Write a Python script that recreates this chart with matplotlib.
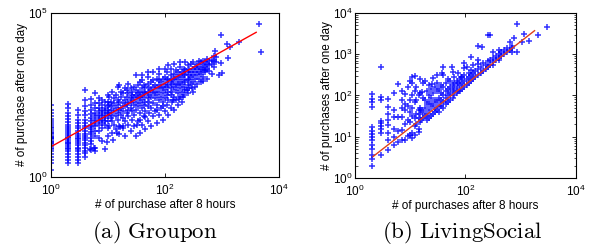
import matplotlib
matplotlib.use("Agg")
import matplotlib.pyplot as plt
from matplotlib.ticker import LogLocator, NullLocator, NullFormatter

plt.rcParams['font.family'] = ['Liberation Sans', 'DejaVu Sans']
plt.rcParams['mathtext.default'] = 'regular'

# all values are log10 of counts

# Groupon: purchases at 8h take integer values, so small counts form columns
gp_col_x = [1, 2, 3, 4, 5, 6]
gp_col_ly = [
    [0.21, 0.42, 0.52, 0.6, 0.7, 0.78, 0.85, 0.9, 0.95, 1.0, 1.04, 1.08, 1.11, 1.15, 1.18, 1.2,
     1.23, 1.26, 1.3, 1.34, 1.38, 1.43, 1.48, 1.53, 1.58, 1.64, 1.7, 1.78, 1.86, 1.95, 2.04, 2.19],
    [0.42, 0.52, 0.6, 0.7, 0.78, 0.85, 0.9, 0.95, 1.0, 1.04, 1.08, 1.13, 1.18, 1.23, 1.28, 1.34,
     1.4, 1.46, 1.53, 1.6, 1.68, 1.76, 1.85, 1.95, 2.1, 2.24],
    [0.42, 0.52, 0.62, 0.7, 0.78, 0.85, 0.9, 0.98, 1.04, 1.1, 1.15, 1.2, 1.26, 1.32, 1.4, 1.48,
     1.56, 1.65, 1.75, 1.9, 2.04],
    [0.62, 0.72, 0.8, 0.9, 0.98, 1.05, 1.12, 1.18, 1.25, 1.32, 1.4, 1.48, 1.56, 1.65, 1.75, 1.88,
     2.0, 2.15, 2.35, 2.65],
    [0.82, 1.0, 1.1, 1.2, 1.3, 1.38, 1.45, 1.52, 1.6, 1.7, 1.8, 1.92, 2.05, 2.2, 2.37],
    [0.8, 0.87, 1.25, 1.4, 1.55, 1.65, 1.75, 1.85, 1.95, 2.1, 2.25, 2.55],
]

gp_cloud = [
    (0.85, 1.2), (0.85, 1.4), (0.85, 1.6), (0.85, 1.7), (0.85, 1.8), (0.85, 1.9), (0.85, 2.0),
    (0.85, 2.1), (0.85, 2.25), (0.85, 2.4),
    (0.9, 1.1), (0.9, 1.5), (0.9, 1.65), (0.9, 1.75), (0.9, 1.85), (0.9, 1.95), (0.9, 2.05),
    (0.9, 2.2), (0.9, 2.35),
    (0.95, 0.85), (0.95, 1.6), (0.95, 1.7), (0.95, 1.8), (0.95, 1.9), (0.95, 2.0), (0.95, 2.1),
    (0.95, 2.3),
    (1.0, 1.25), (1.0, 1.5), (1.0, 1.7), (1.0, 1.85), (1.0, 1.95), (1.0, 2.05), (1.0, 2.15),
    (1.0, 2.3), (1.0, 2.5),
    (1.02, 1.55), (1.02, 1.95), (1.02, 2.2), (1.02, 2.45),
    (1.05, 1.8), (1.05, 2.05), (1.05, 2.3),
    (1.08, 1.35), (1.08, 1.7), (1.08, 1.9), (1.08, 2.15), (1.08, 2.6),
    (1.11, 1.6), (1.11, 2.0), (1.11, 2.25), (1.11, 2.4),
    (1.14, 1.45), (1.14, 1.85), (1.14, 2.1), (1.14, 2.5),
    (1.18, 1.75), (1.18, 1.95), (1.18, 2.2), (1.18, 2.35), (1.18, 2.75),
    (1.2, 1.3), (1.2, 1.55), (1.2, 2.05), (1.2, 2.3), (1.2, 2.8),
    (1.23, 1.9), (1.23, 2.1), (1.23, 2.45), (1.23, 2.6),
    (1.26, 1.5), (1.26, 1.8), (1.26, 2.0), (1.26, 2.25), (1.26, 2.55),
    (1.3, 1.25), (1.3, 1.7), (1.3, 2.15), (1.3, 2.35), (1.3, 2.7),
    (1.33, 1.95), (1.33, 2.2), (1.33, 2.45), (1.33, 2.65),
    (1.36, 1.6), (1.36, 1.85), (1.36, 2.05), (1.36, 2.3), (1.36, 2.55), (1.36, 2.85),
    (1.4, 1.4), (1.4, 2.1), (1.4, 2.25), (1.4, 2.4), (1.4, 2.7),
    (1.43, 1.75), (1.43, 2.0), (1.43, 2.35), (1.43, 2.5), (1.43, 2.6),
    (1.46, 1.55), (1.46, 1.9), (1.46, 2.2), (1.46, 2.45), (1.46, 2.75),
    (1.5, 1.25), (1.5, 2.05), (1.5, 2.3), (1.5, 2.5), (1.5, 2.65), (1.5, 3.1),
    (1.53, 1.7), (1.53, 2.15), (1.53, 2.4), (1.53, 2.55), (1.53, 2.8),
    (1.56, 1.35), (1.56, 1.95), (1.56, 2.25), (1.56, 2.45), (1.56, 2.6), (1.56, 2.9),
    (1.6, 1.6), (1.6, 2.1), (1.6, 2.35), (1.6, 2.5), (1.6, 2.7), (1.6, 2.95), (1.6, 3.1),
    (1.63, 1.85), (1.63, 2.2), (1.63, 2.45), (1.63, 2.6), (1.63, 2.8),
    (1.66, 1.45), (1.66, 2.0), (1.66, 2.3), (1.66, 2.55), (1.66, 2.75),
    (1.7, 1.7), (1.7, 2.15), (1.7, 2.4), (1.7, 2.6), (1.7, 2.85), (1.7, 3.05), (1.7, 3.2),
    (1.73, 1.95), (1.73, 2.3), (1.73, 2.5), (1.73, 2.7),
    (1.76, 1.55), (1.76, 2.1), (1.76, 2.45), (1.76, 2.65), (1.76, 2.9),
    (1.8, 1.85), (1.8, 2.25), (1.8, 2.55), (1.8, 2.75), (1.8, 2.95), (1.8, 3.2),
    (1.83, 2.0), (1.83, 2.4), (1.83, 2.6), (1.83, 2.8),
    (1.86, 1.65), (1.86, 2.2), (1.86, 2.5), (1.86, 2.7), (1.86, 3.0),
    (1.9, 1.9), (1.9, 2.35), (1.9, 2.6), (1.9, 2.8), (1.9, 2.95), (1.9, 3.15), (1.9, 3.3),
    (1.93, 2.1), (1.93, 2.45), (1.93, 2.7), (1.93, 2.9),
    (1.96, 1.75), (1.96, 2.3), (1.96, 2.55), (1.96, 2.75), (1.96, 3.0),
    (2.0, 2.0), (2.0, 2.4), (2.0, 2.65), (2.0, 2.85), (2.0, 3.05), (2.0, 3.3),
    (2.03, 2.2), (2.03, 2.5), (2.03, 2.75), (2.03, 2.95), (2.03, 3.2),
    (2.06, 1.9), (2.06, 2.35), (2.06, 2.6), (2.06, 2.8), (2.06, 3.0), (2.06, 3.4),
    (2.1, 2.1), (2.1, 2.5), (2.1, 2.7), (2.1, 2.9), (2.1, 3.1), (2.1, 3.3),
    (2.13, 2.3), (2.13, 2.6), (2.13, 2.85), (2.13, 3.0),
    (2.16, 2.05), (2.16, 2.45), (2.16, 2.75), (2.16, 2.95), (2.16, 3.15), (2.16, 3.45),
    (2.2, 2.35), (2.2, 2.65), (2.2, 2.85), (2.2, 3.05), (2.2, 3.25),
    (2.23, 2.2), (2.23, 2.55), (2.23, 2.8), (2.23, 3.0), (2.23, 3.2),
    (2.26, 2.45), (2.26, 2.7), (2.26, 2.9), (2.26, 3.1), (2.26, 3.35), (2.26, 3.5),
    (2.3, 2.3), (2.3, 2.6), (2.3, 2.85), (2.3, 3.05), (2.3, 3.2),
    (2.33, 2.5), (2.33, 2.75), (2.33, 2.95), (2.33, 3.15), (2.33, 3.3),
    (2.36, 2.65), (2.36, 2.9), (2.36, 3.1), (2.36, 3.25), (2.36, 3.5),
    (2.4, 2.55), (2.4, 2.8), (2.4, 3.0), (2.4, 3.2), (2.4, 3.4),
    (2.43, 2.7), (2.43, 2.95), (2.43, 3.1), (2.43, 3.3),
    (2.46, 2.85), (2.46, 3.05), (2.46, 3.2), (2.46, 3.45),
    (2.5, 2.6), (2.5, 2.9), (2.5, 3.1), (2.5, 3.3), (2.5, 3.5),
    (2.53, 2.75), (2.53, 3.0), (2.53, 3.2), (2.53, 3.35),
    (2.56, 2.85), (2.56, 3.1), (2.56, 3.3), (2.56, 3.45),
    (2.6, 3.0), (2.6, 3.2), (2.6, 3.35), (2.6, 3.55),
    (2.63, 2.9), (2.63, 3.15), (2.63, 3.3), (2.63, 3.5),
    (2.67, 3.05), (2.67, 3.25), (2.67, 3.4), (2.67, 3.55),
    (2.7, 3.2), (2.7, 3.26), (2.7, 3.35), (2.7, 3.5),
    (2.74, 3.0), (2.74, 3.3), (2.74, 3.45), (2.74, 3.6),
    (2.78, 3.23), (2.78, 3.4), (2.78, 3.55),
    (2.82, 3.15), (2.82, 3.45), (2.82, 3.56), (2.86, 3.35), (2.86, 3.55), (2.86, 3.7),
    (2.9, 3.5), (2.9, 3.65),
    # lower tail and outliers
    (2.47, 2.7), (2.38, 2.65), (2.32, 2.45), (2.24, 2.37), (2.15, 2.35), (1.97, 2.17),
    (1.86, 2.04), (1.65, 1.84), (1.56, 1.74), (1.51, 1.59), (1.21, 1.53), (1.27, 1.55),
    (1.16, 1.33), (1.1, 1.13), (0.98, 1.08), (0.75, 0.87), (0.69, 0.84), (2.67, 2.94),
    (2.87, 3.85), (2.99, 4.33), (3.08, 4.05), (3.14, 3.97), (3.29, 4.1), (3.1, 3.62),
    (2.99, 3.47), (2.94, 3.11), (3.0, 3.18), (3.65, 4.66), (3.68, 3.82),
]

# LivingSocial
ls_col_x = [2, 3, 4, 5, 6, 7, 8, 9]
ls_col_ly = [
    [0.3, 0.45, 0.57, 0.7, 0.8, 0.92, 1.0, 1.07, 1.14, 1.24, 1.73, 1.85, 1.91, 2.03],
    [0.57, 1.08, 1.18, 1.25, 1.33, 1.38, 1.9, 1.97, 2.68],
    [0.68, 0.92, 1.08, 1.28, 1.4, 1.54, 1.73, 1.91],
    [0.8, 1.0, 1.18, 1.49, 1.65, 2.05],
    [0.88, 1.15, 1.49, 2.27],
    [0.92, 1.16, 1.49, 1.69, 1.89, 2.12],
    [0.93, 1.3, 1.65, 1.8, 2.03],
    [1.02, 1.4, 1.75, 2.2],
]

ls_cloud = [
    (1.0, 1.04), (1.0, 1.35), (1.0, 1.6), (1.0, 1.9), (1.0, 2.35),
    (1.03, 0.98), (1.03, 2.31), (1.04, 1.1), (1.04, 1.5), (1.04, 1.7), (1.04, 2.0), (1.04, 2.45),
    (1.08, 1.25), (1.08, 1.45), (1.08, 1.85), (1.08, 2.1), (1.09, 1.04), (1.09, 2.47),
    (1.11, 1.3), (1.11, 1.55), (1.11, 1.9), (1.11, 2.2),
    (1.15, 1.12), (1.15, 1.2), (1.15, 1.45), (1.15, 1.65), (1.15, 2.0),
    (1.18, 1.35), (1.18, 1.55), (1.18, 1.7), (1.18, 2.05), (1.18, 2.4),
    (1.2, 1.4), (1.2, 1.65), (1.21, 2.09), (1.23, 1.45), (1.23, 1.6), (1.23, 1.95), (1.23, 2.3),
    (1.26, 1.5), (1.26, 1.7), (1.26, 1.9), (1.26, 2.36),
    (1.3, 1.4), (1.3, 1.55), (1.3, 1.8), (1.3, 2.1),
    (1.34, 1.45), (1.34, 1.65), (1.34, 1.85), (1.34, 2.0), (1.34, 2.25),
    (1.38, 1.5), (1.38, 1.75), (1.38, 1.95), (1.38, 2.15), (1.39, 2.29),
    (1.41, 1.55), (1.41, 1.8), (1.41, 2.05), (1.41, 2.42),
    (1.45, 1.6), (1.45, 1.7), (1.45, 1.9), (1.45, 2.2),
    (1.48, 1.65), (1.48, 1.85), (1.48, 2.1), (1.48, 2.3), (1.48, 2.5),
    (1.52, 1.6), (1.52, 1.75), (1.52, 1.95), (1.52, 2.15), (1.57, 2.54), (1.59, 2.68),
    (1.56, 1.75), (1.56, 1.9), (1.56, 2.05), (1.56, 2.25),
    (1.6, 1.7), (1.6, 1.85), (1.6, 2.0), (1.6, 2.2), (1.6, 2.5),
    (1.64, 1.8), (1.64, 1.95), (1.64, 2.1), (1.64, 2.3),
    (1.68, 1.85), (1.68, 2.0), (1.68, 2.15), (1.68, 2.4),
    (1.72, 1.9), (1.72, 2.05), (1.72, 2.2), (1.72, 2.35),
    (1.76, 2.68), (1.77, 1.95), (1.77, 2.1), (1.77, 2.25), (1.77, 2.58),
    (1.8, 2.0), (1.8, 2.15), (1.8, 2.3), (1.8, 2.45),
    (1.84, 2.05), (1.84, 2.2), (1.84, 2.35), (1.86, 2.1), (1.86, 2.3), (1.86, 2.54),
    (1.9, 2.1), (1.9, 2.25), (1.9, 2.4), (1.92, 2.46),
    (1.94, 2.15), (1.94, 2.3), (1.94, 2.45), (1.98, 2.2), (1.98, 2.35), (1.98, 2.5),
    (1.98, 2.66), (1.98, 2.78),
    (2.02, 2.25), (2.02, 2.4), (2.02, 2.7), (2.06, 2.3), (2.06, 2.45), (2.06, 2.55),
    (2.1, 2.35), (2.1, 2.5), (2.1, 2.62), (2.1, 2.94),
    (2.14, 2.4), (2.14, 2.55), (2.14, 2.74), (2.18, 2.45), (2.18, 2.6),
    (2.22, 2.76), (2.22, 2.86), (2.23, 2.5), (2.23, 2.65), (2.23, 3.19),
    (2.28, 2.55), (2.28, 2.7), (2.29, 3.18), (2.32, 2.6), (2.32, 2.78),
    (2.38, 2.65), (2.38, 2.75), (2.41, 3.47), (2.41, 2.7), (2.41, 2.84),
    (2.44, 2.75), (2.44, 2.85), (2.44, 3.47),
    (2.5, 2.74), (2.5, 2.8), (2.5, 2.9), (2.5, 3.05), (2.55, 2.85), (2.55, 2.95),
    (2.6, 2.86), (2.6, 2.9), (2.6, 3.0), (2.6, 3.1), (2.65, 2.95), (2.65, 3.05),
    (2.7, 3.0), (2.7, 3.1), (2.75, 3.05), (2.75, 3.15),
    (2.8, 3.1), (2.8, 3.3), (2.84, 3.06), (2.85, 3.15), (2.85, 3.2), (2.88, 3.39),
    (2.93, 3.06), (2.94, 3.73), (3.02, 3.3), (3.06, 3.49), (3.15, 3.33), (3.32, 3.47),
    (3.48, 3.65),
]

# fitted lines (log10 endpoints)
gp_fit_lx = [0.0, 3.6]
gp_fit_ly = [0.92, 4.41]
ls_fit_lx = [0.326, 3.25]
ls_fit_ly = [0.52, 3.57]


def expand(col_x, col_ly, cloud):
    xs, ys = [], []
    for x, lys in zip(col_x, col_ly):
        for ly in lys:
            xs.append(x)
            ys.append(10 ** ly)
    for lx, ly in cloud:
        xs.append(10 ** lx)
        ys.append(10 ** ly)
    return xs, ys


def style_axes(ax, xlabel, ylabel, ymax, yticks, yminor):
    ax.set_xscale('log')
    ax.set_yscale('log')
    ax.set_xlim(1, 1e4)
    ax.set_ylim(1, ymax)
    ax.set_xticks([1, 1e2, 1e4])
    ax.xaxis.set_minor_locator(NullLocator())
    ax.set_yticks(yticks)
    if yminor:
        ax.yaxis.set_minor_locator(LogLocator(base=10, subs=range(2, 10)))
        ax.yaxis.set_minor_formatter(NullFormatter())
    else:
        ax.yaxis.set_minor_locator(NullLocator())
    ax.tick_params(which='both', direction='in', top=True, right=True, labelsize=8.5)
    ax.tick_params(axis='x', pad=4)
    ax.tick_params(axis='y', pad=2)
    ax.tick_params(which='major', length=3, width=0.6)
    ax.tick_params(which='minor', length=1.8, width=0.5)
    for s in ax.spines.values():
        s.set_linewidth(0.8)
    ax.set_xlabel(xlabel, fontsize=8.5, labelpad=1)
    ax.set_ylabel(ylabel, fontsize=8.5, labelpad=0)


fig = plt.figure(figsize=(5.98, 2.49), dpi=100)
ax1 = fig.add_axes([0.0848, 0.289, 0.3818, 0.659])
ax2 = fig.add_axes([0.5936, 0.285, 0.3696, 0.663])

x, y = expand(gp_col_x, gp_col_ly, gp_cloud)
ax1.plot(x, y, '+', color='#0000ff', ms=4.5, mew=1.1, alpha=0.8)
ax1.plot([10 ** v for v in gp_fit_lx], [10 ** v for v in gp_fit_ly], color='red', lw=1)
style_axes(ax1, '# of purchase after 8 hours', '# of purchase after one day', 1e5, [1, 1e5], False)

x, y = expand(ls_col_x, ls_col_ly, ls_cloud)
ax2.plot(x, y, '+', color='#0000ff', ms=4.5, mew=1.1, alpha=0.8)
ax2.plot([10 ** v for v in ls_fit_lx], [10 ** v for v in ls_fit_ly], color='#e0401a', lw=1)
style_axes(ax2, '# of purchases after 8 hours', '# of purchases after one day', 1e4,
           [1, 10, 100, 1e3, 1e4], True)

fig.text(0.259, 0.065, r'$\mathrm{(a)\ Groupon}$', math_fontfamily='cm', fontsize=16.5,
         ha='center', va='center')
fig.text(0.773, 0.065, r'$\mathrm{(b)\ LivingSocial}$', math_fontfamily='cm', fontsize=16.5,
         ha='center', va='center')

fig.savefig('out.png', dpi=100)
